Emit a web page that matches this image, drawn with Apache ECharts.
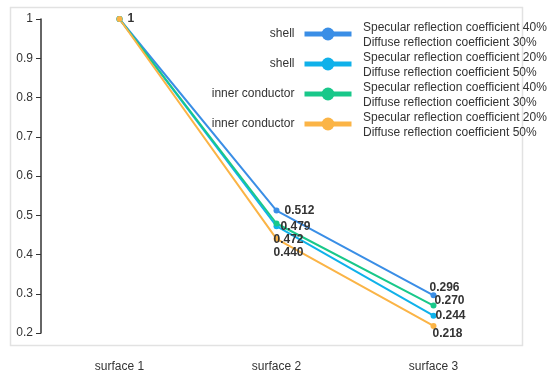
<!DOCTYPE html>
<html><head><meta charset="utf-8">
<script src="https://cdn.jsdelivr.net/npm/echarts@6/dist/echarts.min.js"></script>
<style>html,body{margin:0;padding:0;background:#fff}#c{width:550px;height:379px}</style>
</head><body><div id="c"></div>
<script>
var categories = ['surface 1', 'surface 2', 'surface 3'];
var yTicks = [0.2, 1, 0.1];
var shortNames = ['shell', 'shell', 'inner conductor', 'inner conductor'];
var longNames = [
  'Specular reflection coefficient 40%\nDiffuse reflection coefficient 30%',
  'Specular reflection coefficient 20%\nDiffuse reflection coefficient 50%',
  'Specular reflection coefficient 40%\nDiffuse reflection coefficient 30%',
  'Specular reflection coefficient 20%\nDiffuse reflection coefficient 50%'
];
var shell40 = [1, 0.512, 0.296];
var shell20 = [1, 0.472, 0.244];
var inner40 = [1, 0.479, 0.270];
var inner20 = [1, 0.440, 0.218];

var colors = ['#3a8ee6', '#10b1ea', '#19c88a', '#fbb446'];
var values = [shell40, shell20, inner40, inner20];
// label placement per series, per point (style only)
var labelStyles = [
  [null, {position: 'right', offset: [0, 0]}, {position: 'top', offset: [11, 6]}],
  [null, {position: 'bottom', offset: [12, -1]}, {position: 'right', offset: [-6, 0]}],
  [null, {position: 'right', offset: [-4, 3]}, {position: 'right', offset: [-7, -5]}],
  [{position: 'right', offset: [0, 0]}, {position: 'bottom', offset: [12, 0]}, {position: 'bottom', offset: [14, -6]}]
];
var names = shortNames.map(function (s, i) { return 'S' + i; });

var series = values.map(function (vals, i) {
  return {
    name: names[i],
    type: 'line',
    data: vals.map(function (v, j) {
      var ls = labelStyles[i][j];
      return {
        value: v,
        label: ls ? {show: true, position: ls.position, offset: ls.offset} : {show: false}
      };
    }),
    symbol: 'circle',
    symbolSize: 6,
    lineStyle: {width: 2, color: colors[i]},
    itemStyle: {color: colors[i]},
    label: {
      fontFamily: 'Liberation Sans, Arial, sans-serif',
      fontSize: 12, fontWeight: 'bold', color: '#333',
      formatter: function (p) { return p.value === 1 ? '1' : p.value.toFixed(3); }
    }
  };
});

var chart = echarts.init(document.getElementById('c'));
chart.setOption({
  animation: false,
  backgroundColor: '#fff',
  color: colors,
  graphic: [{
    type: 'rect', z: -10, silent: true,
    shape: {x: 10.5, y: 7.5, width: 512, height: 338},
    style: {fill: 'none', stroke: '#e2e2e2', lineWidth: 1.5}
  }],
  grid: {left: 41, right: 38, top: 19, bottom: 46},
  legend: [{
    data: names, orient: 'vertical', align: 'right', right: 191, top: 14,
    itemWidth: 47, itemHeight: 16, itemGap: 0, selectedMode: false,
    formatter: function (n) { return shortNames[names.indexOf(n)]; },
    textStyle: {fontFamily: 'Liberation Sans, Arial, sans-serif', fontSize: 12, color: '#333', lineHeight: 30, padding: [0, 5, 0, 0]},
    lineStyle: {width: 5}
  }, {
    data: names, orient: 'vertical', align: 'left', left: 358, top: 20, padding: 0,
    icon: 'none', itemWidth: 0, itemHeight: 14, itemGap: 0, selectedMode: false,
    formatter: function (n) { return longNames[names.indexOf(n)]; },
    textStyle: {fontFamily: 'Liberation Sans, Arial, sans-serif', fontSize: 12, color: '#333', lineHeight: 15}
  }],
  xAxis: {
    type: 'category', data: categories, boundaryGap: true,
    axisLine: {show: false}, axisTick: {show: false},
    axisLabel: {margin: 28, fontFamily: 'Liberation Sans, Arial, sans-serif', fontSize: 12, color: '#333'}
  },
  yAxis: {
    type: 'value', min: yTicks[0], max: yTicks[1], interval: yTicks[2],
    axisLine: {show: true, lineStyle: {color: '#333', width: 1.5}},
    axisTick: {show: true, length: 5, lineStyle: {color: '#333'}},
    splitLine: {show: false},
    axisLabel: {margin: 8, fontFamily: 'Liberation Sans, Arial, sans-serif', fontSize: 12, color: '#333',
      formatter: function (v) { return String(Math.round(v * 10) / 10); }}
  },
  series: series
});
</script></body></html>
